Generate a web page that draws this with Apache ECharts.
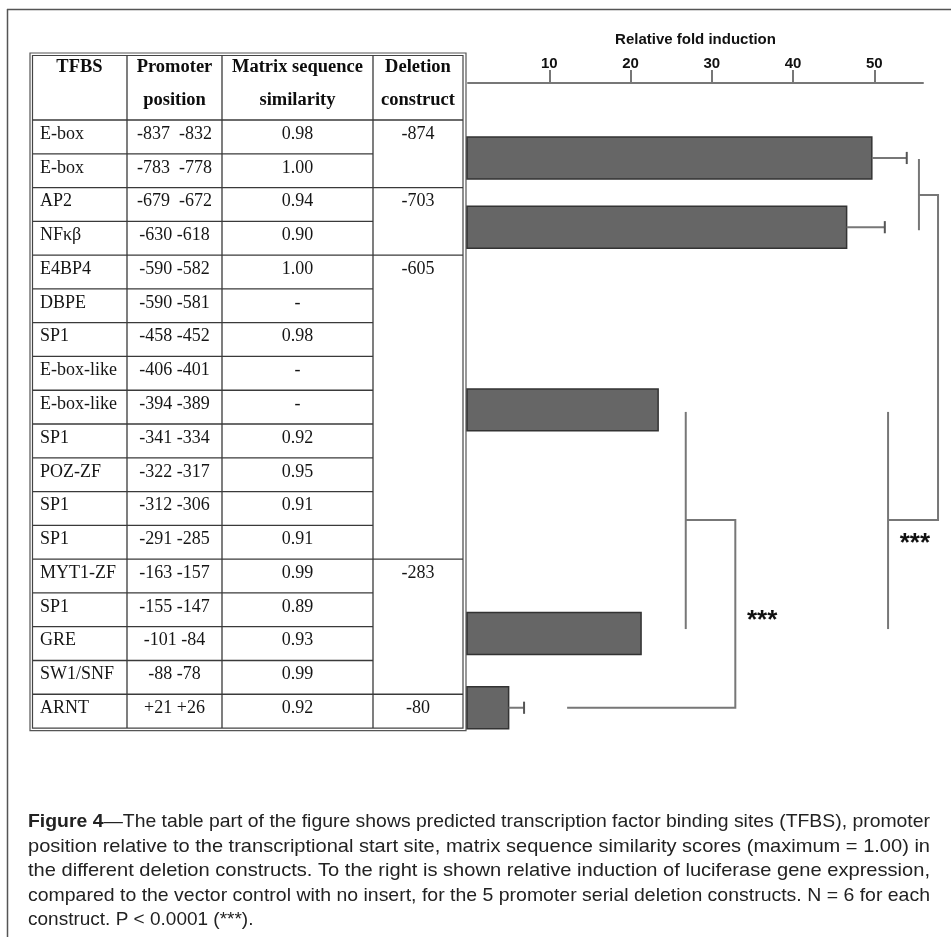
<!DOCTYPE html>
<html>
<head>
<meta charset="utf-8">
<script src="https://cdn.jsdelivr.net/npm/echarts@6/dist/echarts.min.js"></script>
<style>
html,body{margin:0;padding:0;background:#fff;}
#chart{width:951px;height:937px;}
</style>
</head>
<body>
<div id="chart"></div>
<script>
// ---------- data ----------
const headerLines = [["TFBS", ""], ["Promoter", "position"], ["Matrix sequence", "similarity"], ["Deletion", "construct"]];
const tfbs = ["E-box","E-box","AP2","NFκβ","E4BP4","DBPE","SP1","E-box-like","E-box-like","SP1","POZ-ZF","SP1","SP1","MYT1-ZF","SP1","GRE","SW1/SNF","ARNT"];
const promoterPos = ["-837  -832","-783  -778","-679  -672","-630 -618","-590 -582","-590 -581","-458 -452","-406 -401","-394 -389","-341 -334","-322 -317","-312 -306","-291 -285","-163 -157","-155 -147","-101 -84","-88 -78","+21 +26"];
const similarity = ["0.98","1.00","0.94","0.90","1.00","-","0.98","-","-","0.92","0.95","0.91","0.91","0.99","0.89","0.93","0.99","0.92"];
const constructs = ["-874","-703","-605","-283","-80"];
const constructRowSpan = [2, 2, 9, 4, 1];
// bar chart: relative fold induction per construct
const foldInduction = [49.7, 46.6, 23.4, 21.3, 5.0];
const foldError = [4.3, 4.7, 0, 0, 1.9];
const barRowPos = [1.12, 3.17, 8.58, 15.2, 17.4];   // position along the table rows
const tickValues = [10, 20, 30, 40, 50];
// significance brackets (x in fold units, y in table rows)
const brackets = [
  [[55.5, 1.15], [55.5, 3.26]],
  [[55.5, 2.22], [57.85, 2.22], [57.85, 11.84], [51.7, 11.84]],
  [[51.7, 8.64], [51.7, 15.07]],
  [[26.8, 8.64], [26.8, 15.07]],
  [[26.8, 11.84], [32.9, 11.84], [32.9, 17.4], [12.2, 17.4]]
];
const stars = [{text: "***", at: [55.0, 12.37]}, {text: "***", at: [36.2, 14.65]}];
const captionLead = "Figure 4";
const captionLines = [
  "—The table part of the figure shows predicted transcription factor binding sites (TFBS), promoter",
  "position relative to the transcriptional start site, matrix sequence similarity scores (maximum = 1.00) in",
  "the different deletion constructs. To the right is shown relative induction of luciferase gene expression,",
  "compared to the vector control with no insert, for the 5 promoter serial deletion constructs. N = 6 for each",
  "construct. P < 0.0001 (***)."
];

// ---------- layout ----------
const serif = "'Liberation Serif','Times New Roman',serif";
const sans = "'Liberation Sans',Arial,sans-serif";
const colX = [32, 127, 222, 373, 463];
const headerBottom = 120, rowH = 33.78;
const lineColor = '#3a3a3a';
const bodyFont = '18px ' + serif, headFont = 'bold 18.5px ' + serif;
const textColor = '#151515';

const graphics = [];
// outer frame
graphics.push({type:'line', shape:{x1:7.5,y1:9,x2:7.5,y2:937}, style:{stroke:'#555', lineWidth:1.5}});
graphics.push({type:'line', shape:{x1:7,y1:9.5,x2:951,y2:9.5}, style:{stroke:'#555', lineWidth:1.5}});

// table double border
const tableBottom = headerBottom + rowH * tfbs.length;
graphics.push({type:'rect', shape:{x:30, y:53, width:436, height:tableBottom - 53 + 2.5}, style:{fill:null, stroke:'#555', lineWidth:1.2}});
graphics.push({type:'rect', shape:{x:32.5, y:55.5, width:430.5, height:tableBottom - 55.5}, style:{fill:null, stroke:'#444', lineWidth:1.2}});
for (let c = 1; c < 4; c++) {
  graphics.push({type:'line', shape:{x1:colX[c], y1:55.5, x2:colX[c], y2:tableBottom}, style:{stroke:lineColor, lineWidth:1.3}});
}
graphics.push({type:'line', shape:{x1:32.5, y1:headerBottom, x2:463, y2:headerBottom}, style:{stroke:lineColor, lineWidth:1.5}});
for (let r = 1; r < tfbs.length; r++) {
  const y = headerBottom + r * rowH;
  graphics.push({type:'line', shape:{x1:32.5, y1:y, x2:colX[3], y2:y}, style:{stroke:lineColor, lineWidth:1.3}});
}
let acc = 0;
constructRowSpan.forEach((span, i) => {
  const top = headerBottom + acc * rowH;
  graphics.push({type:'text', style:{text:constructs[i], x:(colX[3]+colX[4])/2, y:top + 14, align:'center', verticalAlign:'middle', font:bodyFont, fill:textColor}});
  acc += span;
  if (i < constructRowSpan.length - 1) {
    const y = headerBottom + acc * rowH;
    graphics.push({type:'line', shape:{x1:colX[3], y1:y, x2:463, y2:y}, style:{stroke:lineColor, lineWidth:1.3}});
  }
});
headerLines.forEach((lines, c) => {
  const cx = (colX[c] + colX[c+1]) / 2;
  lines.forEach((t, k) => {
    if (!t) return;
    graphics.push({type:'text', style:{text:t, x:cx, y:67 + k*33, align:'center', verticalAlign:'middle', font:headFont, fill:'#0d0d0d'}});
  });
});
for (let r = 0; r < tfbs.length; r++) {
  const y = headerBottom + r * rowH + 14;
  graphics.push({type:'text', style:{text:tfbs[r], x:40, y:y, align:'left', verticalAlign:'middle', font:bodyFont, fill:textColor}});
  graphics.push({type:'text', style:{text:promoterPos[r], x:(colX[1]+colX[2])/2, y:y, align:'center', verticalAlign:'middle', font:bodyFont, fill:textColor}});
  graphics.push({type:'text', style:{text:similarity[r], x:(colX[2]+colX[3])/2, y:y, align:'center', verticalAlign:'middle', font:bodyFont, fill:textColor}});
}
// caption (lines 1-4 stretched to the justified width)
const capX = 28, capW = 902, capFont = '19px ' + sans, capBold = 'bold 19px ' + sans;
const mctx = document.createElement('canvas').getContext('2d');
function measure(t, f) { mctx.font = f; return mctx.measureText(t).width; }
captionLines.forEach((line, i) => {
  const y = 822 + i * 24.5;
  let w = measure(line, capFont);
  if (i === 0) w += measure(captionLead, capBold);
  const sx = (i < captionLines.length - 1) ? Math.min(1.08, capW / w) : 1;
  const el = {type:'text', x:capX, y:y, scaleX:sx, originX:0, originY:0, style:{x:0, y:0, verticalAlign:'middle', fill:'#222'}};
  if (i === 0) {
    el.style.text = '{b|' + captionLead + '}{n|' + line + '}';
    el.style.rich = {b:{font:capBold, fill:'#222'}, n:{font:capFont, fill:'#222'}};
  } else {
    el.style.text = line;
    el.style.font = capFont;
  }
  graphics.push(el);
});

const chart = echarts.init(document.getElementById('chart'), null, {renderer:'canvas'});
const BAR_HALF = 0.62, CAP_HALF = 0.18;
const barData = foldInduction.map((v, i) => [v, barRowPos[i], foldError[i]]);
const option = {
  animation: false,
  backgroundColor: '#fff',
  grid: {left: 468, top: 83, width: 455, height: 645, containLabel: false},
  xAxis: {
    type: 'value', position: 'top', min: 0, max: 56,
    name: 'Relative fold induction', nameLocation: 'middle', nameGap: 36,
    nameTextStyle: {fontFamily: sans, fontWeight: 'bold', fontSize: 15, color: '#111'},
    axisLine: {show: true, onZero: false, lineStyle: {color: '#777', width: 2}},
    axisTick: {show: true, length: 13, customValues: tickValues, lineStyle: {color: '#777', width: 2}},
    axisLabel: {customValues: tickValues, margin: 12, fontFamily: sans, fontWeight: 'bold', fontSize: 15, color: '#111'},
    splitLine: {show: false}
  },
  yAxis: {type: 'value', inverse: true, min: -1.1, max: 18, show: false},
  series: [{
    type: 'custom',
    data: barData,
    encode: {x: 0, y: 1},
    clip: false,
    renderItem: function (params, api) {
      const v = api.value(0), p = api.value(1), e = api.value(2);
      const a = api.coord([0, p - BAR_HALF]);
      const b = api.coord([v, p + BAR_HALF]);
      const children = [{
        type: 'rect',
        shape: {x: a[0] - 1, y: a[1], width: b[0] - a[0] + 1, height: b[1] - a[1]},
        style: {fill: '#666', stroke: '#333', lineWidth: 1.5}
      }];
      if (e > 0) {
        const s = api.coord([v, p]);
        const t = api.coord([v + e, p]);
        const c1 = api.coord([v + e, p - CAP_HALF]);
        const c2 = api.coord([v + e, p + CAP_HALF]);
        children.push({type: 'line', shape: {x1: s[0], y1: s[1], x2: t[0], y2: t[1]}, style: {stroke: '#777', lineWidth: 2}});
        children.push({type: 'line', shape: {x1: c1[0], y1: c1[1], x2: c2[0], y2: c2[1]}, style: {stroke: '#555', lineWidth: 2}});
      }
      return {type: 'group', children: children};
    }
  }],
  graphic: graphics
};
chart.setOption(option);

// significance brackets placed through the chart's scales
const extra = [];
brackets.forEach(path => {
  const pts = path.map(pt => chart.convertToPixel({gridIndex: 0}, pt));
  extra.push({type: 'polyline', shape: {points: pts}, style: {fill: null, stroke: '#777', lineWidth: 2}});
});
stars.forEach(s => {
  const p = chart.convertToPixel({gridIndex: 0}, s.at);
  extra.push({type: 'text', style: {text: s.text, x: p[0], y: p[1] + 6, align: 'center', verticalAlign: 'middle', font: 'bold 26px ' + sans, fill: '#111'}});
});
chart.setOption({graphic: graphics.concat(extra)});
</script>
</body>
</html>
